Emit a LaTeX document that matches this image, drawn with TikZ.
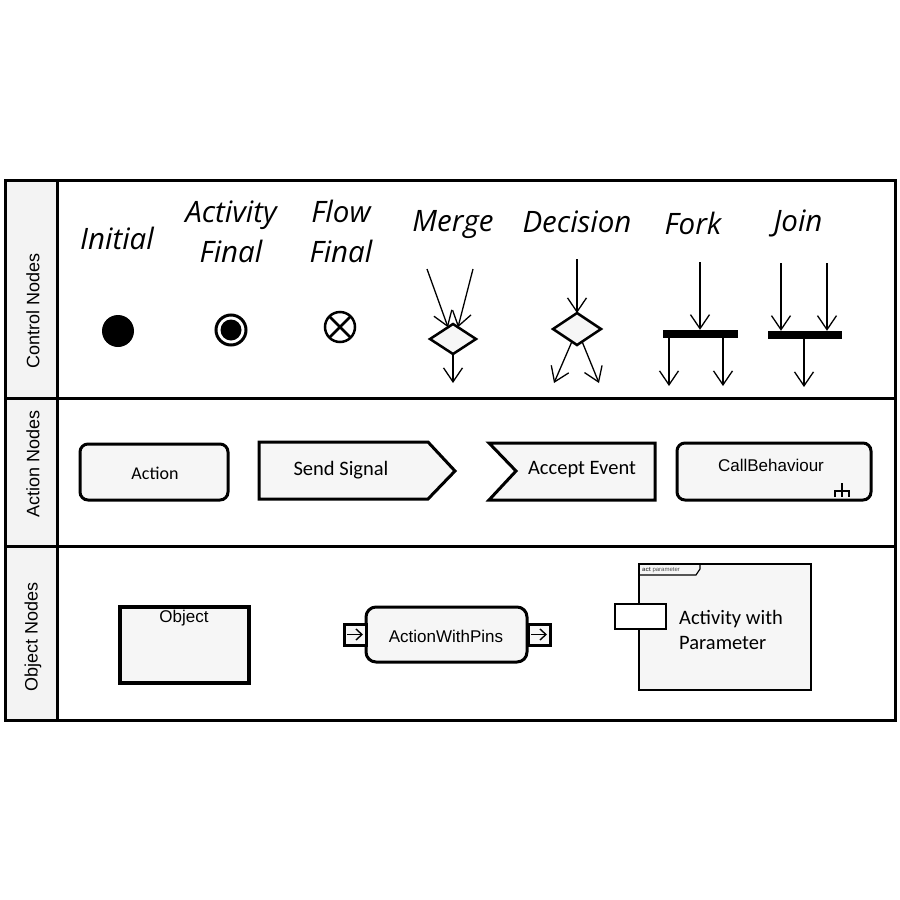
\documentclass[tikz,border=0pt]{standalone}
\usepackage{fontspec}
\setmainfont{Liberation Sans}
\newfontfamily\calfont{Carlito}
\newfontfamily\headfont{Open Sans}
\usetikzlibrary{arrows.meta,shapes.geometric}
\definecolor{shapefill}{HTML}{F6F6F6}
\definecolor{colfill}{HTML}{F3F3F3}
\tikzset{
  head/.style={font=\headfont\itshape\fontsize{29.5}{40}\selectfont, align=center, inner sep=0pt},
  rowlabel/.style={font=\fontsize{18}{20}\selectfont, rotate=90, inner sep=0pt},
  flow/.style={line width=1.3pt, -{Straight Barb[length=14pt,width=19pt]}},
  bar/.style={fill=black, minimum width=75pt, minimum height=8pt, inner sep=0pt},
  decide/.style={diamond, draw, line width=2.5pt, fill=shapefill, minimum width=46pt, minimum height=30pt, inner sep=0pt, outer sep=0pt},
  calibri/.style={font=\calfont\fontsize{20.5}{25}\selectfont, inner sep=0pt},
  arial/.style={font=\fontsize{17}{20}\selectfont, inner sep=0pt},
  pinbox/.style={draw, line width=3pt, fill=shapefill, minimum width=22pt, minimum height=21pt, inner sep=0pt, outer sep=0pt},
  pinarrow/.style={line width=1.4pt, -{Straight Barb[length=6pt,width=11pt]}, shorten <=3pt, shorten >=3pt},
}
\begin{document}
\begin{tikzpicture}[x=1pt,y=-1pt]
\useasboundingbox (0,0) rectangle (900,900);
\fill[white] (0,0) rectangle (900,900);
%\draw[step=50,gray,very thin] (0,0) grid (900,900); %background grid
%---------------------------------------------------
\fill[colfill] (5,180) rectangle (57,720);
\draw[line width=3pt] (5,180) rectangle (895,720);
\draw[line width=3pt] (57,180) -- (57,720);
\draw[line width=3pt] (5,398) -- (895,398);
\draw[line width=3pt] (5,546) -- (895,546);
\node[rowlabel] (lblctrl) at (33,311) {Control Nodes};
\node[rowlabel] (lblact)  at (33,464) {Action Nodes};
\node[rowlabel] (lblobj)  at (33,637) {Object Nodes};
%---------------------------------------------------
\node[head] (hinit)  at (117,238) {Initial};
\node[head] (hafin)  at (231,232) {Activity\\Final};
\node[head] (hffin)  at (341,231) {Flow\\Final};
\node[head] (hmerge) at (453,225) {Merge};
\node[head] (hdec)   at (577,222) {Decision};
\node[head] (hfork)  at (693,223) {Fork};
\node[head] (hjoin)  at (798,223) {Join};
%---------------------------------------------------
\node[circle, fill=black, minimum size=32pt, inner sep=0pt] (initial) at (118,331) {};
\node[circle, draw, line width=3pt, minimum size=30pt, inner sep=0pt] (actfinal) at (231,330) {};
\node[circle, fill=black, minimum size=21pt, inner sep=0pt] (actfinaldot) at (actfinal) {};
\node[circle, draw, line width=2.5pt, minimum size=30pt, inner sep=0pt, outer sep=0pt] (flowfinal) at (340,327) {};
\draw[line width=2.5pt] (flowfinal.45) -- (flowfinal.225) (flowfinal.135) -- (flowfinal.-45);
%---------------------------------------------------
\node[decide] (merge) at (453,339) {};
\coordinate (min1) at (427,269);
\coordinate (min2) at (473,269);
\coordinate (mout) at (453,383);
\draw[flow] (min1) -- (merge.113);
\draw[flow] (min2) -- (merge.67);
\draw[flow] (merge.south) -- (mout);
%---------------------------------------------------
\node[decide, minimum width=48pt, minimum height=32pt] (decision) at (577,329) {};
\coordinate (din) at (577,259);
\coordinate (dout1) at (554,383);
\coordinate (dout2) at (599,383);
\draw[flow] (din) -- (decision.north);
\draw[flow] (decision.-112) -- (dout1);
\draw[flow] (decision.-68) -- (dout2);
%---------------------------------------------------
\node[bar] (fork) at (700,334) {};
\coordinate (fin) at (700,262);
\coordinate (fout1) at (669,386);
\coordinate (fout2) at (723,386);
\draw[flow] (fin) -- (fork.north);
\draw[flow] (fork.south -| fout1) -- (fout1);
\draw[flow] (fork.south -| fout2) -- (fout2);
%---------------------------------------------------
\node[bar, minimum width=74pt] (join) at (805,335) {};
\coordinate (jin1) at (781,263);
\coordinate (jin2) at (827,263);
\coordinate (jout) at (804,387);
\draw[flow] (jin1) -- (jin1 |- join.north);
\draw[flow] (jin2) -- (jin2 |- join.north);
\draw[flow] (join.south -| jout) -- (jout);
%---------------------------------------------------
\draw[line width=3pt, fill=shapefill, rounded corners=8pt] (80,444) rectangle (228,500);
\node[calibri, font=\calfont\fontsize{18}{22}\selectfont] (action) at (155,473) {Action};
\draw[line width=3pt, fill=shapefill] (259,442) -- (428,442) -- (455,471) -- (428,499) -- (259,499) -- cycle;
\node[calibri] (sendsig) at (341,470) {Send Signal};
\draw[line width=3pt, fill=shapefill] (489,443) -- (655,443) -- (655,500) -- (489,500) -- (516,471) -- cycle;
\node[calibri] (accept) at (582,470) {Accept Event};
\draw[line width=3pt, fill=shapefill, rounded corners=8pt] (677,443) rectangle (871,500);
\node[arial] (callbeh) at (771,465) {CallBehaviour};
\draw[line width=2.5pt] (835,497) -- (835,491) -- (849,491) -- (849,497) (842,483) -- (842,497);
%---------------------------------------------------
\draw[line width=3.5pt, fill=shapefill] (120,607) rectangle (249,683);
\node[arial] (object) at (184,618) {Object};
%---------------------------------------------------
\draw[line width=3pt, fill=shapefill, rounded corners=10pt] (366,607) rectangle (527,662);
\node[arial] (awp) at (446,636) {ActionWithPins};
\node[pinbox] (pinin)  at (355,634.5) {};
\node[pinbox] (pinout) at (539,634.5) {};
\draw[pinarrow] (pinin.west) -- (pinin.east);
\draw[pinarrow] (pinout.west) -- (pinout.east);
%---------------------------------------------------
\draw[line width=1.5pt, fill=shapefill] (639,564) rectangle (811,690);
\draw[line width=1.2pt] (639,575) -- (696,575) -- (700,569) -- (700,564);
\node[font=\fontsize{6}{7}\selectfont, text=gray!60!black, anchor=west, inner sep=1pt] (acttag) at (641,570) {\textbf{act} parameter};
\draw[line width=1.5pt, fill=white] (615,604) rectangle (666,629);
\node[calibri, align=left, anchor=west] (actparam) at (679,630) {Activity with\\Parameter};
\end{tikzpicture}
\end{document}
